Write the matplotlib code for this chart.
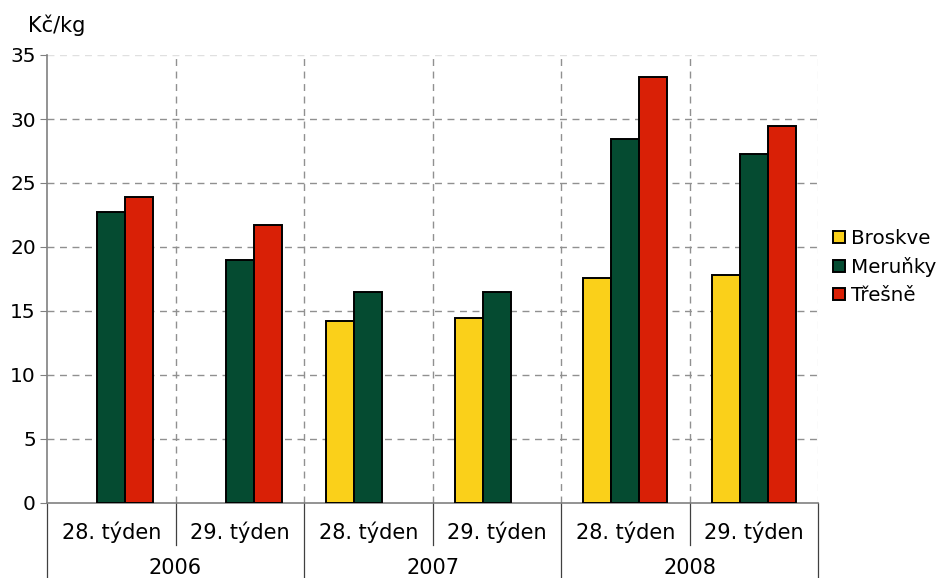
import numpy as np
import matplotlib.pyplot as plt

weeks = ['28. týden', '29. týden', '28. týden', '29. týden', '28. týden', '29. týden']
years = ['2006', '2007', '2008']
series = ['Broskve', 'Meruňky', 'Třešně']
broskve = [np.nan, np.nan, 14.25, 14.45, 17.6, 17.8]
merunky = [22.75, 18.95, 16.45, 16.45, 28.4, 27.3]
tresne = [23.9, 21.7, np.nan, np.nan, 33.25, 29.45]
colors = ['#FAD01A', '#054B31', '#D92006']

plt.rcParams['font.family'] = ['DejaVu Sans']
fs = 15

fig = plt.figure(figsize=(9.4, 5.78), dpi=100)
ax = fig.add_axes([47 / 940, 75 / 578, 771 / 940, 448 / 578])

x = np.arange(len(weeks))
w = 0.218
for k, (name, vals) in enumerate(zip(series, [broskve, merunky, tresne])):
    ax.bar(x + (k - 1) * w, vals, w, color=colors[k], edgecolor='black',
           linewidth=1.4, label=name, zorder=3)

ax.set_xlim(-0.5, len(weeks) - 0.5)
ax.set_ylim(0, 35)
ax.set_yticks(range(0, 36, 5))
ax.tick_params(axis='y', labelsize=14.5, length=5, color='#808080', pad=3)
ax.set_xticks([])

for yv in range(5, 35, 5):
    ax.axhline(yv, color='#909090', ls=(0, (5, 4)), lw=1, zorder=1)
ax.axhline(35, color='#e0e0e0', ls=(0, (5, 4)), lw=1, zorder=1)
for xv in np.arange(0.5, len(weeks) - 0.5, 1):
    ax.axvline(xv, color='#909090', ls=(0, (5, 4)), lw=1, zorder=1)
ax.axvline(len(weeks) - 0.5, color='#e6e6e6', ls=(0, (5, 4)), lw=1, zorder=1)

for s in ['top', 'right']:
    ax.spines[s].set_visible(False)
ax.spines['left'].set_color('#808080')
ax.spines['bottom'].set_color('#808080')
ax.spines['left'].set_linewidth(1.2)
ax.spines['bottom'].set_linewidth(1.2)

# category labels under the axis
trans = ax.get_xaxis_transform()
for i, lab in enumerate(weeks):
    ax.text(i, -29 / 448, lab, transform=trans, ha='center', va='center', fontsize=fs)
for j, yr in enumerate(years):
    ax.text(2 * j + 0.5, -65 / 448, yr, transform=trans, ha='center', va='center', fontsize=fs)
for i in range(len(weeks) + 1):
    xv = i - 0.5
    bottom = -75 / 448 if i % 2 == 0 else -42 / 448
    ax.plot([xv, xv], [0, bottom], transform=trans, color='#404040', lw=0.9, clip_on=False)

fig.text(28 / 940, 1 - 25 / 578, 'Kč/kg', fontsize=fs, ha='left', va='center')

leg = ax.legend(loc='center left', bbox_to_anchor=(1.019, 0.527), frameon=False,
                fontsize=14.3, handlelength=0.6, handleheight=0.6, handletextpad=0.3,
                labelspacing=0.45, borderaxespad=0, borderpad=0)

fig.savefig('out.png', dpi=100)
